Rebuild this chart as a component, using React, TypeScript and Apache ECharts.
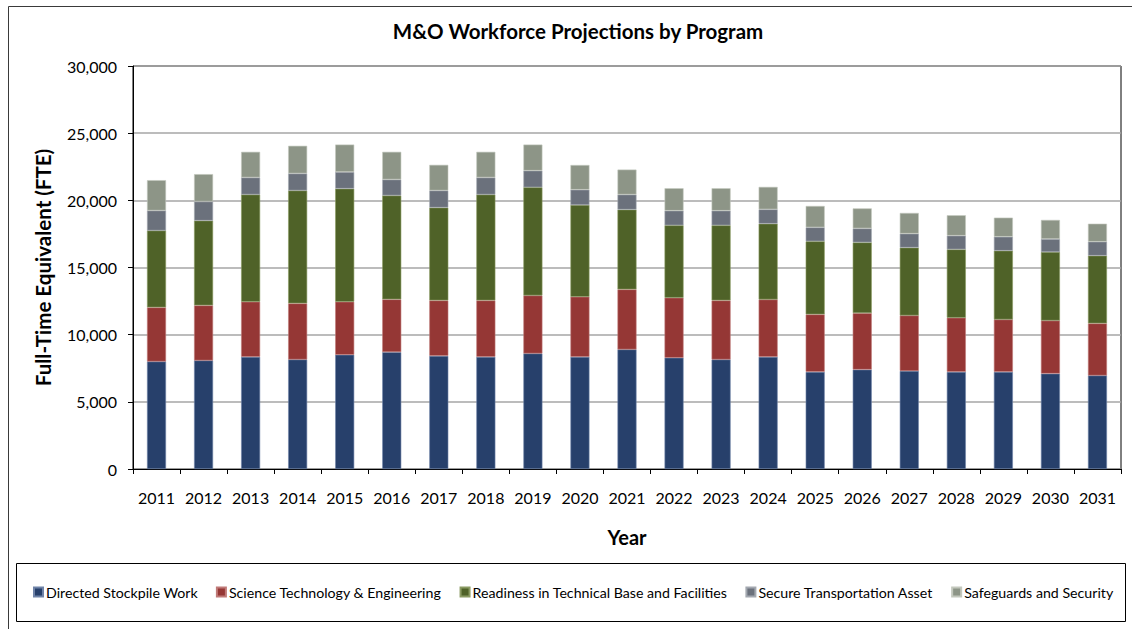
import React, { useEffect, useRef } from "react";
import * as echarts from "echarts";

const years = ["2011","2012","2013","2014","2015","2016","2017","2018","2019","2020","2021","2022","2023","2024","2025","2026","2027","2028","2029","2030","2031"];
const directedStockpileWork = [8000, 8080, 8350, 8150, 8500, 8700, 8420, 8350, 8600, 8350, 8900, 8280, 8150, 8350, 7230, 7400, 7300, 7230, 7230, 7100, 6960];
const scienceTechEng = [4030, 4100, 4100, 4180, 3950, 3930, 4130, 4200, 4320, 4470, 4470, 4470, 4400, 4270, 4280, 4200, 4130, 4030, 3900, 3950, 3880];
const readinessTechBase = [5720, 6310, 7980, 8400, 8420, 7730, 6910, 7880, 8050, 6830, 5940, 5390, 5590, 5640, 5440, 5270, 5050, 5090, 5120, 5100, 5040];
const secureTransport = [1490, 1420, 1270, 1270, 1240, 1190, 1270, 1270, 1240, 1140, 1120, 1090, 1090, 1070, 1040, 1040, 1040, 1020, 1040, 970, 1040];
const safeguardsSecurity = [2260, 2040, 1910, 2060, 2040, 2060, 1910, 1910, 1940, 1840, 1860, 1670, 1670, 1670, 1590, 1490, 1540, 1520, 1420, 1420, 1340];

const seriesNames = [
  "Directed Stockpile Work",
  "Science Technology & Engineering",
  "Readiness in Technical Base and Facilities",
  "Secure Transportation Asset",
  "Safeguards and Security",
];
const seriesData = [directedStockpileWork, scienceTechEng, readinessTechBase, secureTransport, safeguardsSecurity];
const colors = ["#27406B", "#953735", "#4F6228", "#6B717C", "#8D9587"];
const borderColors = ["#6f83a8", "#c07a78", "#8a9a62", "#a3a8b0", "#c3c8bd"];

const FONT = "Lato, 'Open Sans', sans-serif";

export default function App() {
  const ref = useRef<HTMLDivElement>(null);
  useEffect(() => {
    if (!ref.current) return;
    const chart = echarts.init(ref.current, undefined, { renderer: "svg" });
    chart.setOption({
      animation: false,
      backgroundColor: "#ffffff",
      textStyle: { fontFamily: FONT },
      title: {
        text: "M&O Workforce Projections by Program",
        left: 573,
        top: 15,
        textAlign: "center",
        textStyle: { fontFamily: FONT, fontSize: 20.5, fontWeight: "bold", color: "#000" },
      },
      graphic: [
        {
          type: "rect",
          shape: { x: 8.5, y: 6.5, width: 1140, height: 640 },
          style: { fill: "none", stroke: "#3a3a3a", lineWidth: 1 },
          silent: true,
        },
        {
          type: "rect",
          shape: { x: 16.5, y: 563.5, width: 1109, height: 58 },
          style: { fill: "none", stroke: "#000", lineWidth: 1 },
          silent: true,
        },
      ],
      legend: {
        left: 28,
        top: 580,
        itemWidth: 9,
        itemHeight: 9,
        itemGap: 18,
        icon: "rect",
        textStyle: { fontFamily: FONT, fontSize: 14.2, color: "#000", padding: [0, 0, 0, -2] },
        data: seriesNames,
      },
      grid: {
        left: 133,
        top: 66,
        right: 11,
        bottom: 160,
        show: true,
        borderColor: "#000",
        borderWidth: 1,
      },
      xAxis: {
        type: "category",
        data: years,
        name: "Year",
        nameLocation: "middle",
        nameGap: 58,
        nameTextStyle: { fontFamily: FONT, fontSize: 20, fontWeight: "bold", color: "#000" },
        axisLine: { lineStyle: { color: "#000", width: 1 } },
        axisTick: { show: true, length: 5, interval: 0, lineStyle: { color: "#000" } },
        axisLabel: { fontFamily: FONT, fontSize: 16, color: "#000", margin: 20, interval: 0 },
      },
      yAxis: {
        type: "value",
        min: 0,
        max: 30000,
        interval: 5000,
        name: "Full-Time Equivalent (FTE)",
        nameLocation: "middle",
        nameGap: 80,
        nameTextStyle: { fontFamily: FONT, fontSize: 20.5, fontWeight: "bold", color: "#000" },
        axisLine: { show: true, lineStyle: { color: "#000", width: 1 } },
        axisTick: { show: true, length: 5, lineStyle: { color: "#000" } },
        axisLabel: {
          fontFamily: FONT,
          fontSize: 16,
          color: "#000",
          margin: 16,
          formatter: (v: number) => v.toLocaleString("en-US"),
        },
        splitLine: { lineStyle: { color: "#a6a6a6", width: 1.5 } },
      },
      series: seriesNames.map((name, i) => ({
        name,
        type: "bar",
        stack: "total",
        barWidth: 19,
        data: seriesData[i],
        itemStyle: { color: colors[i], borderColor: borderColors[i], borderWidth: 0.6 },
      })),
    });
    return () => chart.dispose();
  }, []);
  return (
    <div
      ref={ref}
      style={{ position: "fixed", left: 0, top: 0, width: 1132, height: 629 }}
    />
  );
}
